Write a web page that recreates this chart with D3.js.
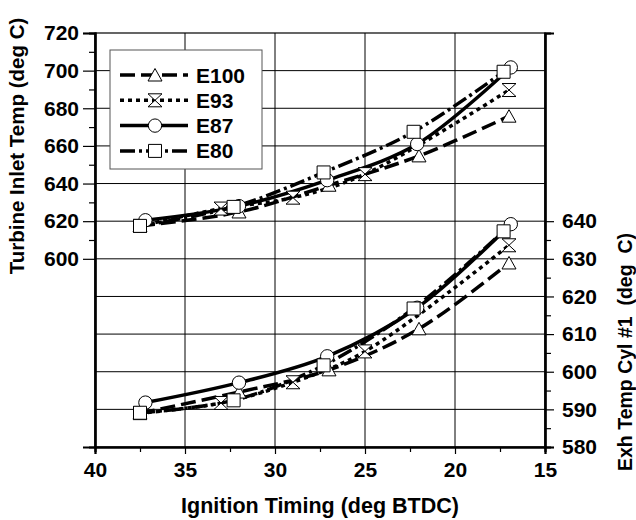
<!DOCTYPE html>
<html>
<head>
<meta charset="utf-8">
<script src="https://cdn.jsdelivr.net/npm/d3@7"></script>
<style>
  body { margin: 0; background: #fff; }
  text { font-family: Arial, "Liberation Sans", sans-serif; font-weight: bold; }
</style>
</head>
<body>
<div id="chart"></div>
<script>
// upper group -> left axis (Turbine inlet), lower group -> right axis (Exh temp)
var names = ["E100", "E93", "E87", "E80"];

var e100X = [37.5, 32, 27, 22, 17];
var e100Turb = [617.5, 624.9, 639.1, 654.7, 675.8];
var e100Exh = [589, 594.6, 600.5, 611.4, 628.9];

var e93X = [37.5, 33, 29, 25, 17];
var e93Turb = [617.5, 626.7, 632.5, 645, 689.7];
var e93Exh = [589, 591.7, 597.2, 605.4, 633.6];

var e87X = [37.2, 32, 27.1, 22.1, 16.9];
var e87Turb = [620.5, 628, 641.8, 661, 701.7];
var e87Exh = [591.8, 597.1, 604.1, 617, 639.2];

var e80X = [37.5, 32.3, 27.3, 22.3, 17.3];
var e80Turb = [617.5, 627.6, 645.9, 667.5, 699.4];
var e80Exh = [589.1, 592.4, 601.7, 616.8, 637.3];

var xTicks = [40, 35, 30, 25, 20, 15];
var leftTicks = [600, 620, 640, 660, 680, 700, 720];
var rightTicks = [580, 590, 600, 610, 620, 630, 640];

var width = 636;
var height = 520;
var margin = {top: 33, right: 91, bottom: 73, left: 95};
var w = width - margin.left - margin.right;
var h = height - margin.top - margin.bottom;

var svg = d3.select('#chart')
    .append('svg')
        .attr('width', width)
        .attr('height', height)
    .append('g')
        .attr('transform', 'translate(' + margin.left + ',' + margin.top + ')');

var xScale = d3.scaleLinear().domain([40, 15]).range([0, w]);
var yLeft = d3.scaleLinear().domain([500, 720]).range([h, 0]);
var yRight = d3.scaleLinear().domain([580, 690]).range([h, 0]);

// grid
svg.selectAll('.hgrid')
    .data(d3.range(520, 720, 20))
    .enter().append('line')
    .attr('x1', 0).attr('x2', w)
    .attr('y1', function(d) { return yLeft(d); })
    .attr('y2', function(d) { return yLeft(d); })
    .attr('stroke', '#000').attr('stroke-width', 1);

svg.selectAll('.vgrid')
    .data([35, 30, 25, 20])
    .enter().append('line')
    .attr('x1', function(d) { return xScale(d); })
    .attr('x2', function(d) { return xScale(d); })
    .attr('y1', 0).attr('y2', h)
    .attr('stroke', '#000').attr('stroke-width', 1);

// frame
svg.append('rect')
    .attr('x', 0).attr('y', 0).attr('width', w).attr('height', h)
    .attr('fill', 'none').attr('stroke', '#000').attr('stroke-width', 1.2);

// axes
var xAxis = d3.axisBottom(xScale).tickValues(xTicks).tickSize(7).tickPadding(8);
var xMinor = d3.axisBottom(xScale).tickValues([37.5, 32.5, 27.5, 22.5, 17.5]).tickSize(5).tickFormat('');
var leftAxis = d3.axisLeft(yLeft).tickValues(leftTicks).tickSize(12).tickPadding(4);
var leftMinor = d3.axisLeft(yLeft).tickValues(d3.range(610, 720, 20)).tickSize(6).tickFormat('');
var rightAxis = d3.axisRight(yRight).tickValues(rightTicks).tickSize(9).tickPadding(8);
var rightMinor = d3.axisRight(yRight).tickValues(d3.range(585, 640, 10)).tickSize(6).tickFormat('');

svg.append('g').attr('transform', 'translate(0,' + h + ')').call(xMinor);
svg.append('g').attr('transform', 'translate(0,' + h + ')').call(xAxis);
svg.append('g').call(leftMinor);
svg.append('g').call(leftAxis);
svg.append('g').attr('transform', 'translate(' + w + ',0)').call(rightMinor);
svg.append('g').attr('transform', 'translate(' + w + ',0)').call(rightAxis);

svg.selectAll('.domain').attr('stroke', '#000').attr('stroke-width', 2.2);
svg.selectAll('.tick line').attr('stroke', '#000').attr('stroke-width', 1.2);
svg.selectAll('.tick text')
    .attr('fill', '#000')
    .style('font-size', '21px');

// axis titles
svg.append('text')
    .attr('transform', 'rotate(-90)')
    .attr('x', -113)
    .attr('y', -margin.left + 24)
    .attr('text-anchor', 'middle')
    .style('font-size', '20.5px')
    .text('Turbine Inlet Temp (deg C)');

svg.append('text')
    .attr('x', w / 2)
    .attr('y', h + 66)
    .attr('text-anchor', 'middle')
    .style('font-size', '21.5px')
    .text('Ignition Timing (deg BTDC)');

svg.append('text')
    .attr('transform', 'translate(' + (w + 87) + ',' + (h + 24) + ') rotate(-90)')
    .attr('text-anchor', 'start')
    .style('font-size', '19.5px')
    .attr('xml:space', 'preserve')
    .text('Exh Temp Cyl #1  (deg  C)');

// series
var styles = {
    "E100": {dash: '15,6', marker: 'triangle'},
    "E93": {dash: '4,4', marker: 'hourglass'},
    "E87": {dash: null, marker: 'circle'},
    "E80": {dash: '15,4,3,4', marker: 'square'}
};

var series = [
    {name: "E100", x: e100X, turb: e100Turb, exh: e100Exh},
    {name: "E93", x: e93X, turb: e93Turb, exh: e93Exh},
    {name: "E87", x: e87X, turb: e87Turb, exh: e87Exh},
    {name: "E80", x: e80X, turb: e80Turb, exh: e80Exh}
];

function markerPath(type) {
    switch (type) {
        case 'triangle': return 'M0,-6.5L7,6L-7,6Z';
        case 'hourglass': return 'M-7,-6.5L7,-6.5L-7,6.5L7,6.5Z';
        case 'square': return 'M-6.5,-6.5L6.5,-6.5L6.5,6.5L-6.5,6.5Z';
        default: return d3.symbol().type(d3.symbolCircle).size(140)();
    }
}

function drawMarker(g, type, x, y) {
    g.append('path')
        .attr('d', markerPath(type))
        .attr('transform', 'translate(' + x + ',' + y + ')')
        .attr('fill', '#fff')
        .attr('stroke', '#000')
        .attr('stroke-width', 1);
}

var lines = svg.append('g');
var marks = svg.append('g');

series.forEach(function(s) {
    var st = styles[s.name];
    [[s.turb, yLeft], [s.exh, yRight]].forEach(function(pair) {
        var pts = s.x.map(function(v, i) { return [v, pair[0][i]]; });
        var line = d3.line()
            .x(function(d) { return xScale(d[0]); })
            .y(function(d) { return pair[1](d[1]); })
            .curve(d3.curveCatmullRom.alpha(0.5));
        lines.append('path')
            .datum(pts)
            .attr('fill', 'none')
            .attr('stroke', '#000')
            .attr('stroke-width', 3.5)
            .attr('stroke-dasharray', st.dash)
            .attr('d', line);
        pts.forEach(function(p) {
            drawMarker(marks, st.marker, xScale(p[0]), pair[1](p[1]));
        });
    });
});

// legend
var legend = svg.append('g').attr('transform', 'translate(' + (110 - margin.left) + ',' + (50 - margin.top) + ')');
legend.append('rect')
    .attr('width', 152).attr('height', 119)
    .attr('fill', '#fff').attr('stroke', '#555').attr('stroke-width', 1);

names.forEach(function(n, i) {
    var st = styles[n];
    var yy = 25 + i * 25.3;
    legend.append('line')
        .attr('x1', 10).attr('x2', 78)
        .attr('y1', yy).attr('y2', yy)
        .attr('stroke', '#000').attr('stroke-width', 3.5)
        .attr('stroke-dasharray', st.dash);
    drawMarker(legend, st.marker, 45, yy);
    legend.append('text')
        .attr('x', 86).attr('y', yy + 7.5)
        .style('font-size', '21px')
        .text(n);
});
</script>
</body>
</html>
